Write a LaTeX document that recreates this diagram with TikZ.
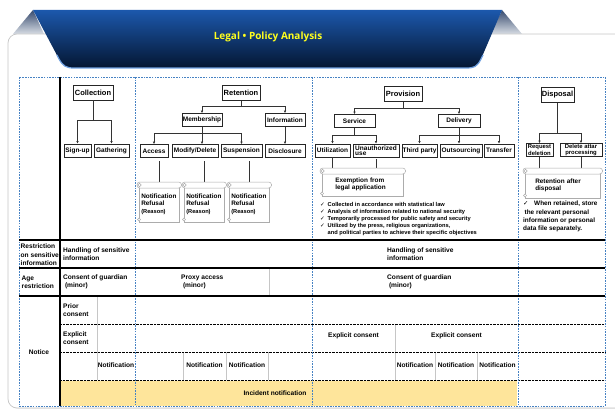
\documentclass[tikz,border=0pt]{standalone}
\usepackage{fontspec}
\setmainfont{Liberation Sans}
\newfontfamily\titlefont{Open Sans}
\newfontfamily\symfont{DejaVu Sans}
\usetikzlibrary{arrows.meta, calc, shadows}
\definecolor{framedash}{RGB}{70,130,195}
\definecolor{bannertop}{RGB}{28,88,172}
\definecolor{bannermid}{RGB}{12,52,118}
\definecolor{bannerbot}{RGB}{4,22,50}
\definecolor{bannerrim}{RGB}{110,160,225}
\definecolor{foldtop}{RGB}{55,75,110}
\definecolor{foldbot}{RGB}{215,220,228}
\definecolor{incident}{RGB}{254,229,155}
\definecolor{titleyellow}{RGB}{255,255,30}

\newcommand{\chk}{\makebox[7.5pt][l]{\symfont ✓}}
% rolled top edge and bottom curl of a scroll node
\newcommand{\rollup}[1]{%
  \draw[roll, rounded corners=2.8pt] ($(#1.north west)+(-2,-4)$) rectangle ($(#1.north east)+(2,2)$);
  \draw[roll] ($(#1.north west)+(0.5,-1)$) circle (1.8pt);
  \draw[roll] ($(#1.south west)+(0,-3)$) circle (1.6pt);
}

\begin{document}
\begin{tikzpicture}[x=1pt, y=-1pt,
    hdr/.style={draw=black!85, fill=white, line width=0.6pt, inner sep=0.5pt,
      minimum height=15pt, font=\fontsize{7.5}{8}\selectfont\bfseries},
    sub/.style={draw=black!85, fill=white, line width=0.6pt, inner sep=0.5pt,
      minimum height=13pt, font=\fontsize{6.5}{6.5}\selectfont\bfseries},
    twoline/.style={align=center, font=\fontsize{5.9}{5.4}\selectfont\bfseries},
    arrow/.style={-{Latex[length=2.6pt, width=2.4pt]}, line width=0.6pt, draw=black!80},
    link/.style={line width=0.6pt, draw=black!80},
    scroll/.style={draw=gray!65, fill=white, line width=0.5pt, anchor=north west,
      align=left, inner ysep=1pt, font=\fontsize{6.4}{7.2}\selectfont\bfseries,
      drop shadow={opacity=0.25, shadow xshift=1pt, shadow yshift=-1pt}},
    roll/.style={draw=gray!65, fill=white, line width=0.5pt},
    cell/.style={anchor=west, align=left, inner sep=0pt,
      font=\fontsize{6.6}{8.4}\selectfont\bfseries},
    cellc/.style={cell, anchor=center, align=center},
    dashframe/.style={draw=framedash, line width=0.6pt, dash pattern=on 1.6pt off 1.1pt},
    thickrule/.style={line width=1.3pt},
    divider/.style={draw=gray!45, line width=0.5pt},
    dotrow/.style={line width=0.55pt, dash pattern=on 0.6pt off 0.8pt}
  ]
  \useasboundingbox (0,0) rectangle (615,409);
  \clip (0,0) rectangle (615,409);

  % ribbon ends, panel and title banner
  \shade[top color=foldtop, bottom color=foldbot] (13,34) -- (33,10) -- (44,34) -- cycle;
  \shade[top color=foldtop, bottom color=foldbot] (522,34) -- (502,10) -- (491,34) -- cycle;
  \draw[draw=gray!45, fill=white, rounded corners=9pt, line width=0.7pt,
    drop shadow={opacity=0.15, shadow xshift=0.8pt, shadow yshift=-0.8pt}]
    (8,34) rectangle (640,408);
  \path[top color=bannertop, middle color=bannermid, bottom color=bannerbot]
    (33,10) -- (502,10) -- (481,59) .. controls (477,67) and (474,68) .. (466,68)
    -- (74,68) .. controls (66,68) and (63,66) .. (59,59) -- cycle;
  \draw[bannerrim, line width=1.2pt]
    (57,55) -- (59,59) .. controls (63,66) and (66,68) .. (74,68) -- (466,68)
    .. controls (474,68) and (477,67) .. (481,59) -- (483,55);
  \node[font={\titlefont\fontsize{10}{11}\selectfont\bfseries}, text=titleyellow]
    (title) at (268,37) {Legal • Policy Analysis};

  % table background, rows and columns
  \fill[incident] (61,380.5) rectangle (517,406);
  \draw[divider] (269,268) -- (269,296);
  \draw[divider] (97,296) -- (97,380);
  \foreach \x in {183,226,268,435,477}
    \draw[divider] (\x,352) -- (\x,380);
  \draw[divider] (395,324) -- (395,380);
  \foreach \y in {324,352,380}
    \draw[dotrow] (60,\y) -- (605,\y);
  \draw[dashframe] (19,77) rectangle (605,406);
  \foreach \x in {135,312,518}
    \draw[dashframe] (\x,77) -- (\x,406);
  \foreach \y in {240,268,296}
    \draw[thickrule] (19,\y) -- (605,\y);
  \draw[thickrule] (60,77) -- (60,406);

  % collection
  \node[hdr, minimum width=40pt] (coll) at (93,92.5) {Collection};
  \node[sub, minimum width=27pt] (signup) at (77.5,150.5) {Sign-up};
  \node[sub, minimum width=35pt] (gather) at (111.5,150.5) {Gathering};
  \draw[arrow] (coll.south) -- ++(0,20) -| (signup.north);
  \draw[arrow] (coll.south) -- ++(0,20) -| (gather.north);

  % retention
  \node[hdr, minimum width=38pt] (ret) at (241,93) {Retention};
  \node[sub, minimum width=40pt] (memb) at (202,120) {Membership};
  \node[sub, minimum width=40pt] (info) at (285,120) {Information};
  \node[sub, minimum width=28pt] (access) at (154,151) {Access};
  \node[sub, minimum width=46pt] (modify) at (195,151) {Modify/Delete};
  \node[sub, minimum width=41pt] (suspend) at (241.5,151) {Suspension};
  \node[sub, minimum width=40pt] (disclose) at (285,151) {Disclosure};
  \draw[arrow] (ret.south) -- ++(0,6) -| (memb.north);
  \draw[arrow] (ret.south) -- ++(0,6) -| (info.north);
  \draw[arrow] (memb.south) -- ++(0,6) -| (access.north);
  \draw[arrow] (memb.south) -- (memb.south |- modify.north);
  \draw[arrow] (memb.south) -- ++(0,6) -| (suspend.north);
  \draw[arrow] (info) -- (disclose);

  \node[scroll, text width=36pt, inner xsep=2pt, minimum height=36pt] (note1) at (139,186)
    {Notification\\Refusal\\{\fontsize{5.7}{7}\selectfont(Reason)}};
  \node[scroll, text width=36pt, inner xsep=2pt, minimum height=36pt] (note2) at (184,186)
    {Notification\\Refusal\\{\fontsize{5.7}{7}\selectfont(Reason)}};
  \node[scroll, text width=36pt, inner xsep=2pt, minimum height=36pt] (note3) at (229,186)
    {Notification\\Refusal\\{\fontsize{5.7}{7}\selectfont(Reason)}};
  \foreach \s/\b in {note1/access, note2/modify, note3/suspend}
    \draw[link, shorten >=3pt] (\s.north) -- (\s.north |- \b.south);
  \foreach \s in {note1, note2, note3}
    \rollup{\s};

  % provision
  \node[hdr, minimum width=38pt] (prov) at (403,94) {Provision};
  \node[sub, minimum width=41pt] (service) at (354.5,121) {Service};
  \node[sub, minimum width=42pt] (deliver) at (459,121) {Delivery};
  \node[sub, minimum width=35pt] (util) at (332.5,150.5) {Utilization};
  \node[sub, minimum width=46pt, align=left, font=\fontsize{6.5}{5.4}\selectfont\bfseries]
    (unauth) at (376,150.5) {Unauthorized\\use};
  \node[sub, minimum width=35pt] (third) at (419.5,150.5) {Third party};
  \node[sub, minimum width=42pt] (outsrc) at (461,150.5) {Outsourcing};
  \node[sub, minimum width=30pt] (transfer) at (499,150.5) {Transfer};
  \draw[arrow] (prov.south) -- ++(0,7) -| (service.north);
  \draw[arrow] (prov.south) -- ++(0,7) -| (deliver.north);
  \draw[arrow] (service.south) -- ++(0,7) -| (util.north);
  \draw[arrow] (service.south) -- ++(0,7) -| (unauth.north);
  \draw[arrow] (deliver.south) -- ++(0,7) -| (third.north);
  \draw[arrow] (deliver.south) -- (deliver.south |- outsrc.north);
  \draw[arrow] (deliver.south) -- ++(0,7) -| (transfer.north);

  \node[scroll, text width=55pt, inner xsep=13pt, minimum height=24pt] (exempt) at (322,172)
    {Exemption from\\legal application};
  \draw[link] (util.south) -- (util.south |- exempt.north);
  \draw[link] ([yshift=-1.5pt]unauth.south) -- (unauth.south |- exempt.north);
  \rollup{exempt};

  \node[anchor=north west, align=left, inner sep=0pt, font=\fontsize{5.7}{7}\selectfont\bfseries]
    (uses) at (320,202.5)
    {\chk Collected in accordance with statistical law\\
     \chk Analysis of information related to national security\\
     \chk Temporarily processed for public safety and security\\
     \chk Utilized by the press, religious organizations,\\
     \hspace*{7.5pt}and political parties to achieve their specific objectives};

  % disposal
  \node[hdr, minimum width=33pt] (disp) at (557.5,95) {Disposal};
  \node[sub, twoline, minimum width=27pt] (reqdel) at (539.5,150) {Request\\deletion};
  \node[sub, twoline, minimum width=42pt] (delproc) at (581,150) {Delete attar\\processing};
  \draw[arrow] (disp.south) -- ++(0,30) -| (reqdel.north);
  \draw[arrow] (disp.south) -- ++(0,30) -| (delproc.north);

  \node[scroll, text width=55pt, inner xsep=10pt, minimum height=26pt] (retain) at (525,172)
    {Retention after\\disposal};
  \draw[link] (reqdel.south) -- (reqdel.south |- retain.north);
  \draw[link] (delproc.south) -- (delproc.south |- retain.north);
  \rollup{retain};

  \node[anchor=north west, align=left, inner sep=0pt, font=\fontsize{6.4}{8.2}\selectfont\bfseries]
    (keep) at (523,201)
    {\makebox[11pt][l]{\symfont ✓}When retained, store\\
     \hspace*{1.5pt}the relevant personal\\
     information or personal\\
     data file separately.};

  % restriction rows
  \node[cell] (sensl) at (20.5,255) {Restriction\\on sensitive\\information};
  \node[cell] (sensa) at (63,254) {Handling of sensitive\\information};
  \node[cell] (sensb) at (387,254) {Handling of sensitive\\information};
  \node[cell] (agel) at (21.5,282) {Age\\restriction};
  \node[cell] (guarda) at (63,282) {Consent of guardian\\ \ (minor)};
  \node[cell] (proxy) at (181,282) {Proxy access\\ \ (minor)};
  \node[cell] (guardb) at (387,282) {Consent of guardian\\ \ (minor)};

  % notice rows
  \node[cellc] (notice) at (39,352) {Notice};
  \node[cell] (prior) at (63,310) {Prior\\consent};
  \node[cell] (explicit) at (63,338) {Explicit\\consent};
  \node[cellc] (explicita) at (353.5,336) {Explicit consent};
  \node[cellc] (explicitb) at (456.5,336) {Explicit consent};
  \foreach \x/\name in {116/notifa, 204.5/notifb, 247/notifc, 415/notifd, 456/notife, 497.5/notiff}
    \node[cellc] (\name) at (\x,365) {Notification};
  \node[cellc] (incident) at (275,393) {Incident notification};
\end{tikzpicture}
\end{document}
